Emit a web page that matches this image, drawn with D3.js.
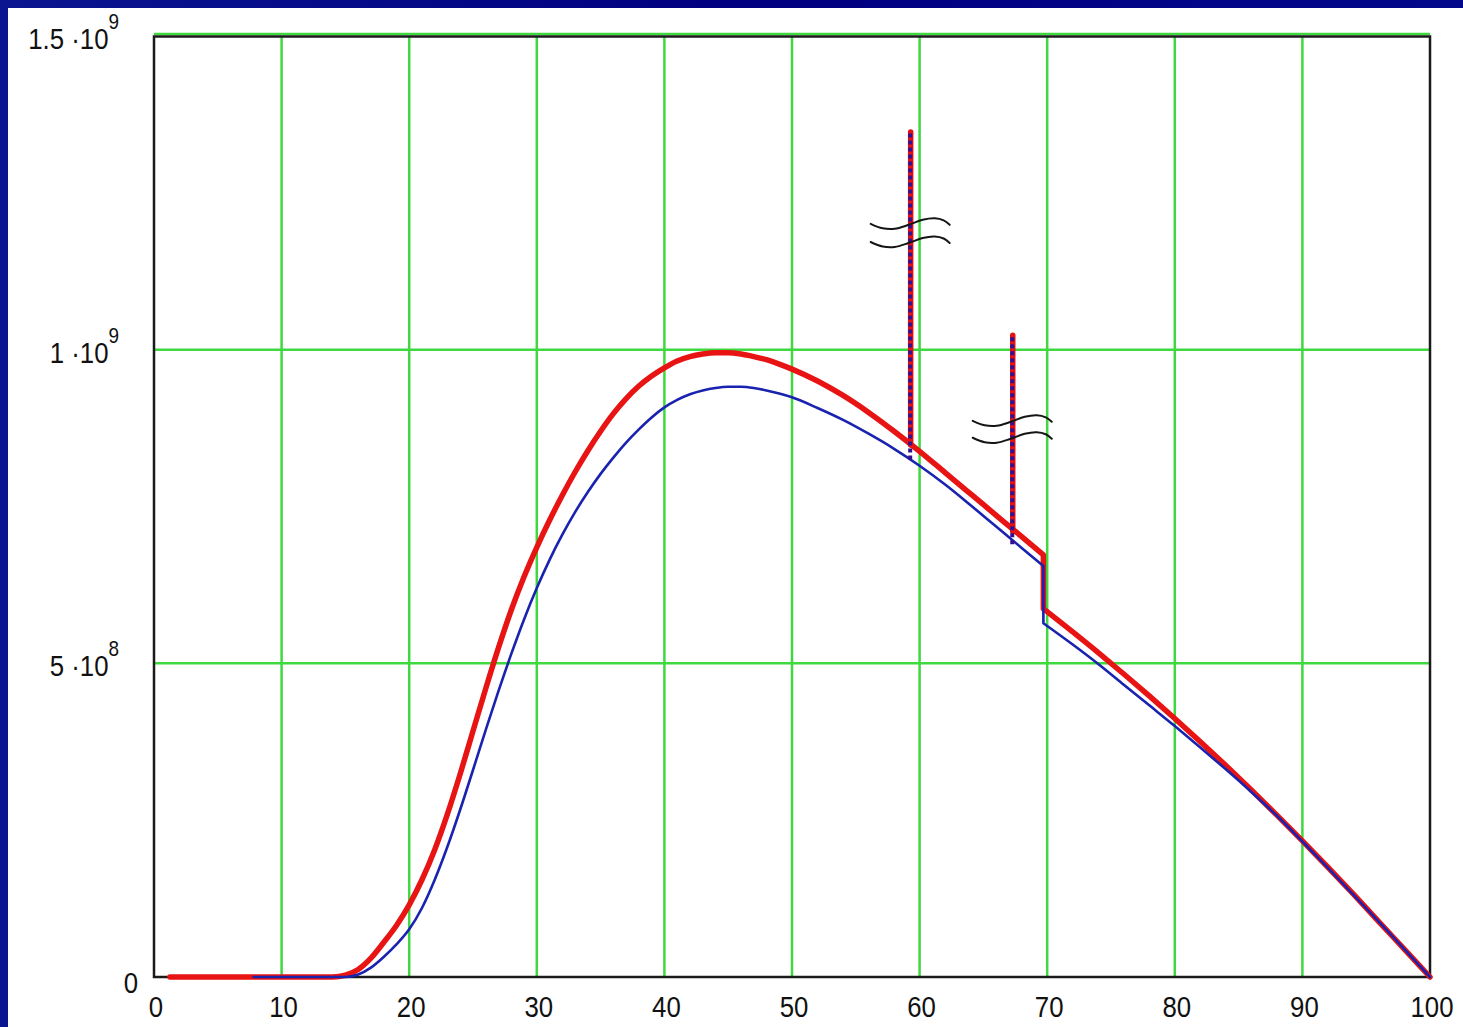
<!DOCTYPE html>
<html>
<head>
<meta charset="utf-8">
<script src="https://cdn.jsdelivr.net/npm/d3@7"></script>
<style>
  html, body { margin: 0; padding: 0; background: #000080; }
  svg { display: block; }
  text { font-family: "Liberation Sans", Arial, sans-serif; fill: #111; }
</style>
</head>
<body>
<svg id="chart" width="1463" height="1027"></svg>
<script>
// ---- data ----
const xTicks = [0, 10, 20, 30, 40, 50, 60, 70, 80, 90, 100];
const yTicks = [0, 5e8, 1e9, 1.5e9];
const yTickMantissa = ["0", "5", "1", "1.5"];
const yTickExponent = [null, "8", "9", "9"];

// red trace (thick); the repeated x = 69.7 marks the step down
const redX = [1.25, 8, 14, 15, 16, 17, 18, 19, 20, 21, 22, 23, 24, 25, 26, 27, 28, 29, 30, 31, 32, 33, 34, 35, 36, 37, 38, 39, 40,
              41, 42, 43, 44, 45, 46, 47, 48, 49, 50, 52, 54, 56, 58, 60, 62, 64, 66, 68, 69.7,
              69.7, 72, 74, 76, 78, 80, 82, 84, 86, 88, 90, 92, 94, 96, 98, 100];
const redV = [0, 0, 0, 0.03e8, 0.12e8, 0.3e8, 0.55e8, 0.82e8, 1.15e8, 1.55e8, 2.03e8, 2.6e8, 3.24e8, 3.92e8, 4.6e8, 5.25e8, 5.85e8, 6.38e8, 6.85e8, 7.28e8, 7.68e8, 8.05e8, 8.39e8, 8.7e8, 8.98e8, 9.22e8, 9.42e8, 9.58e8, 9.71e8,
              9.82e8, 9.89e8, 9.93e8, 9.95e8, 9.95e8, 9.93e8, 9.89e8, 9.84e8, 9.77e8, 9.69e8, 9.5e8, 9.27e8, 9.0e8, 8.7e8, 8.38e8, 8.04e8, 7.7e8, 7.36e8, 7.02e8, 6.73e8,
              5.87e8, 5.5e8, 5.17e8, 4.83e8, 4.48e8, 4.12e8, 3.75e8, 3.37e8, 2.98e8, 2.58e8, 2.17e8, 1.75e8, 1.32e8, 0.88e8, 0.44e8, 0];

// blue trace (thin)
const blueX = [7.8, 14, 15, 16, 17, 18, 19, 20, 21, 22, 23, 24, 25, 26, 27, 28, 29, 30, 31, 32, 33, 34, 35, 36, 37, 38, 39, 40,
               41, 42, 43, 44, 45, 46, 47, 48, 49, 50, 52, 54, 56, 58, 60, 62, 64, 66, 68, 69.7,
               69.7, 72, 74, 76, 78, 80, 82, 84, 86, 88, 90, 92, 94, 96, 98, 100];
const blueV = [0, 0, 0, 0.04e8, 0.15e8, 0.32e8, 0.52e8, 0.76e8, 1.1e8, 1.55e8, 2.08e8, 2.67e8, 3.3e8, 3.94e8, 4.56e8, 5.15e8, 5.7e8, 6.2e8, 6.65e8, 7.05e8, 7.41e8, 7.73e8, 8.02e8, 8.28e8, 8.52e8, 8.73e8, 8.92e8, 9.08e8,
               9.2e8, 9.29e8, 9.35e8, 9.39e8, 9.41e8, 9.41e8, 9.39e8, 9.35e8, 9.3e8, 9.24e8, 9.07e8, 8.88e8, 8.66e8, 8.42e8, 8.15e8, 7.85e8, 7.52e8, 7.18e8, 6.84e8, 6.55e8,
               5.64e8, 5.3e8, 4.99e8, 4.66e8, 4.33e8, 4.0e8, 3.66e8, 3.31e8, 2.95e8, 2.57e8, 2.16e8, 1.74e8, 1.31e8, 0.88e8, 0.44e8, 0];

// isolated spikes (cut with break marks)
const spikeX = [59.3, 67.3];
const spikeTop = [13.47e8, 10.23e8];
const spikeRedBase = [8.48e8, 7.1e8];
const spikeBlueBase = [8.25e8, 6.9e8];
const breakUpper = [11.99e8, 8.85e8];
const breakLower = [11.70e8, 8.58e8];

// ---- layout ----
const svg = d3.select("#chart");
const W = 1463, H = 1027;
const x = d3.scaleLinear().domain([0, 100]).range([154, 1430]);
const y = d3.scaleLinear().domain([0, 1.5e9]).range([977, 36]);

// page background: navy border, white sheet
const defs = svg.append("defs");
const grad = defs.append("linearGradient").attr("id", "navy")
  .attr("x1", "0").attr("y1", "0").attr("x2", "1").attr("y2", "0");
grad.append("stop").attr("offset", "0").attr("stop-color", "#0b1590");
grad.append("stop").attr("offset", "0.5").attr("stop-color", "#000080");
grad.append("stop").attr("offset", "1").attr("stop-color", "#03088a");
svg.append("rect").attr("width", W).attr("height", H).attr("fill", "url(#navy)");
svg.append("rect").attr("x", 8).attr("y", 8).attr("width", W - 8).attr("height", H - 8).attr("fill", "#ffffff");

// ---- grid ----
const gridColor = "#3fd83f";
const grid = svg.append("g");
grid.selectAll("line.vx").data(xTicks.filter(d => d > 0 && d < 100)).join("line")
  .attr("x1", d => x(d)).attr("x2", d => x(d))
  .attr("y1", y(1.5e9)).attr("y2", y(0))
  .attr("stroke", gridColor).attr("stroke-width", 2.5);
grid.selectAll("line.hy").data(yTicks.filter(d => d > 0)).join("line")
  .attr("x1", x(0)).attr("x2", x(100))
  .attr("y1", d => y(d) - (d === 1.5e9 ? 2 : 0)).attr("y2", d => y(d) - (d === 1.5e9 ? 2 : 0))
  .attr("stroke", gridColor).attr("stroke-width", 2.5);

// ---- frame ----
svg.append("rect")
  .attr("x", x(0)).attr("y", y(1.5e9) + 0.5)
  .attr("width", x(100) - x(0)).attr("height", y(0) - y(1.5e9) - 0.5)
  .attr("fill", "none").attr("stroke", "#1a1a1a").attr("stroke-width", 2.5);

// ---- traces ----
function tracePath(xs, vs) {
  // split at discontinuities (repeated x) and join runs with vertical steps
  const pts = xs.map((d, i) => [d, vs[i]]);
  const runs = [];
  let cur = [pts[0]];
  for (let i = 1; i < pts.length; i++) {
    if (pts[i][0] === pts[i - 1][0]) { runs.push(cur); cur = [pts[i]]; }
    else cur.push(pts[i]);
  }
  runs.push(cur);
  const line = d3.line().x(d => x(d[0])).y(d => y(d[1])).curve(d3.curveMonotoneX);
  return runs.map((r, i) => {
    const s = line(r);
    return i === 0 ? s : "L" + s.slice(1);
  }).join("");
}

const curves = svg.append("g").attr("fill", "none")
  .attr("stroke-linejoin", "round").attr("stroke-linecap", "round");

// red spikes under everything else
curves.selectAll("line.rs").data(spikeX).join("line")
  .attr("x1", d => x(d)).attr("x2", d => x(d))
  .attr("y1", (d, i) => y(spikeRedBase[i])).attr("y2", (d, i) => y(spikeTop[i]))
  .attr("stroke", "#e51212").attr("stroke-width", 5.5);

curves.append("path")
  .attr("d", tracePath(redX, redV))
  .attr("stroke", "#e81313").attr("stroke-width", 5.5);

curves.append("path")
  .attr("d", tracePath(blueX, blueV))
  .attr("stroke", "#1a22b0").attr("stroke-width", 2.6);

// blue dotted spikes on top of the red ones
curves.selectAll("line.bs").data(spikeX).join("line")
  .attr("x1", d => x(d) - 0.5).attr("x2", d => x(d) - 0.5)
  .attr("y1", (d, i) => y(spikeBlueBase[i])).attr("y2", (d, i) => y(spikeTop[i]))
  .attr("stroke", "#34108e").attr("stroke-width", 4)
  .attr("stroke-linecap", "butt").attr("stroke-dasharray", "4,3");

// ---- break marks on the spikes ----
const wave = [[-40, -1], [-28, 3.5], [-16, 4], [-2, 0], [12, -5], [24, -6.5], [33, -4.5], [39, 0]];
const waveLine = d3.line().curve(d3.curveCatmullRom.alpha(0.5));
const breaks = svg.append("g").attr("fill", "none").attr("stroke", "#151515")
  .attr("stroke-width", 2).attr("stroke-linecap", "round");
spikeX.forEach((sx, i) => {
  [breakUpper[i], breakLower[i]].forEach(v => {
    breaks.append("path")
      .attr("d", waveLine(wave.map(p => [x(sx) + p[0], y(v) + p[1]])));
  });
});

// ---- tick labels ----
const sx = 0.86;
const fs = 30, fsSup = 22;

// x axis labels
svg.append("g").selectAll("text").data(xTicks).join("text")
  .attr("transform", d => `translate(${x(d) + 2},1017) scale(${sx},1)`)
  .attr("text-anchor", "middle")
  .attr("font-size", fs)
  .text(d => d);

// y axis labels with power-of-ten notation
const yl = svg.append("g").selectAll("text").data(yTicks).join("text")
  .attr("transform", (d, i) => yTickExponent[i] === null
      ? `translate(138,${y(d) + 16}) scale(${sx},1)`
      : `translate(119,${y(d) + 13}) scale(${sx},1)`)
  .attr("text-anchor", "end")
  .attr("font-size", fs);
yl.each(function (d, i) {
  const t = d3.select(this);
  if (yTickExponent[i] === null) {
    t.text(yTickMantissa[i]);
  } else {
    t.append("tspan").text(yTickMantissa[i] + " \u00b710");
    t.append("tspan").attr("font-size", fsSup).attr("dy", -20).text(yTickExponent[i]);
  }
});
</script>
</body>
</html>
